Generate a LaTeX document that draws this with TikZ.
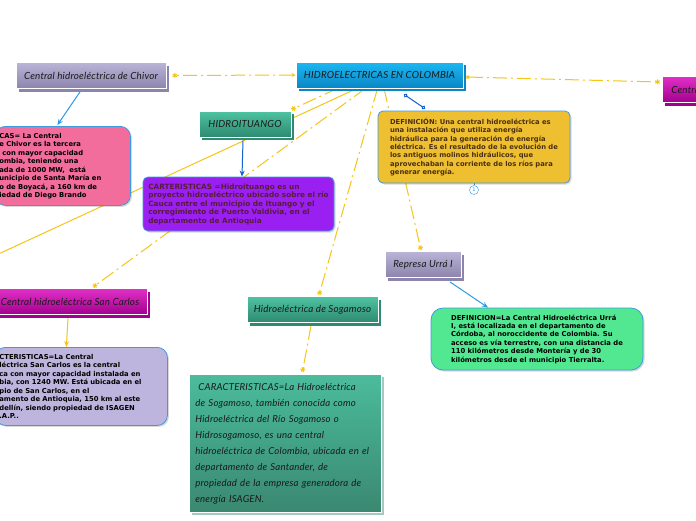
\documentclass[tikz,border=0pt]{standalone}
\usepackage{fontspec}
\newfontfamily\hand{Lato}[LetterSpace=2]
\newfontfamily\verd{DejaVu Sans}
\usetikzlibrary{arrows.meta, shadows, backgrounds}
\definecolor{titletext}{HTML}{1A1A1A}
\definecolor{centraltop}{HTML}{1CB8F2}
\definecolor{centralbot}{HTML}{0A86C6}
\definecolor{lilactop}{HTML}{BAB4D8}
\definecolor{lilacbot}{HTML}{8C84AC}
\definecolor{tealtop}{HTML}{4EC3A2}
\definecolor{tealbot}{HTML}{2E8A70}
\definecolor{magentatop}{HTML}{E230C8}
\definecolor{magentabot}{HTML}{A2008E}
\definecolor{sogtop}{HTML}{4BBC9C}
\definecolor{sogbot}{HTML}{3A8870}
\definecolor{pinkfill}{HTML}{F26D9C}
\definecolor{purplefill}{HTML}{9A20F2}
\definecolor{purpletext}{HTML}{5A1A3C}
\definecolor{goldfill}{HTML}{EFBF32}
\definecolor{goldtext}{HTML}{4A3010}
\definecolor{greenfill}{HTML}{52E892}
\definecolor{lilacfill}{HTML}{BDB5DD}
\definecolor{boxline}{HTML}{3D9BE0}
\definecolor{linkyellow}{HTML}{F5C518}
\definecolor{lightblue}{HTML}{2A9AE8}
\definecolor{darkblue}{HTML}{1262D0}

\begin{document}
\begin{tikzpicture}[x=1pt, y=-1pt,
    topic/.style={
        draw=white,
        line width=0.8pt,
        minimum height=26pt,
        inner sep=1pt,
        text=titletext,
        font=\hand\itshape\fontsize{9.8}{11}\selectfont
    },
    blueshade/.style={top color=centraltop, bottom color=centralbot,
        drop shadow={shadow xshift=3pt, shadow yshift=-3pt, fill=centralbot, opacity=1}},
    lilacshade/.style={top color=lilactop, bottom color=lilacbot,
        drop shadow={shadow xshift=3pt, shadow yshift=-3pt, fill=lilacbot, opacity=1}},
    tealshade/.style={top color=tealtop, bottom color=tealbot,
        drop shadow={shadow xshift=3pt, shadow yshift=-3pt, fill=tealbot, opacity=1}},
    magentashade/.style={top color=magentatop, bottom color=magentabot,
        drop shadow={shadow xshift=3pt, shadow yshift=-3pt, fill=magentabot, opacity=1}},
    detail/.style={
        draw=boxline,
        line width=0.8pt,
        rounded corners=10pt,
        align=left,
        text=black,
        font=\verd\bfseries\fontsize{6.8}{8.4}\selectfont,
        drop shadow={shadow xshift=1.5pt, shadow yshift=-1.5pt, fill=black, opacity=0.15}
    },
    link/.style={draw=linkyellow, line width=1pt,
        dash pattern=on 14pt off 4pt on 2pt off 4pt},
    solidlink/.style={draw=linkyellow, line width=1pt},
    ray/.style={-{Rays[n=6, length=5pt, width=5pt]}},
    bluearrow/.style={line width=1pt, -{Stealth[length=6pt, width=5pt]}}
]

\useasboundingbox (0,0) rectangle (696,520);
\clip (0,0) rectangle (696,520);

\node[topic, blueshade, minimum width=167pt] (colombia) at (379.5,75) {HIDROELECTRICAS EN COLOMBIA};
\node[topic, lilacshade, minimum width=150pt] (chivor) at (91,75.5) {Central hidroeléctrica de Chivor};
\node[topic, magentashade, anchor=west, text width=80pt, inner xsep=9pt, align=left] (otra) at (662,89.5) {Central};
\node[topic, tealshade, minimum width=92pt] (ituango) at (245,124) {HIDROITUANGO};
\node[topic, lilacshade, minimum width=76pt] (urra) at (423,264.5) {Represa Urrá I};
\node[topic, magentashade, minimum width=154pt] (sancarlos) at (70,301.5) {Central hidroeléctrica San Carlos};
\node[topic, tealshade, minimum width=131pt] (sogamoso) at (312.5,309.5) {Hidroeléctrica de Sogamoso};

\node[detail, fill=pinkfill, anchor=north west, text width=127pt, inner xsep=4pt, minimum height=79pt,
    font=\verd\bfseries\fontsize{6.8}{8.5}\selectfont] (chivordet) at (-5,126) {%
CAS= La Central\\
e Chivor es la tercera\\
\hspace*{3pt}con mayor capacidad\\
ombia, teniendo una\\
ada de 1000 MW,\ \ está\\
unicipio de Santa María en\\
o de Boyacá, a 160 km de\\
iedad de Diego Brando};

\node[detail, fill=purplefill, text=purpletext, minimum width=191pt, minimum height=54pt, rounded corners=5pt,
    font=\verd\bfseries\fontsize{7.3}{8.5}\selectfont] (ituangodet) at (238.5,204) {%
CARTERISTICAS =Hidroituango es un\\
proyecto hidroeléctrico ubicado sobre el río\\
Cauca entre el municipio de Ituango y el\\
corregimiento de Puerto Valdivia, en el\\
departamento de Antioquia};

\node[detail, fill=goldfill, text=goldtext, minimum width=192pt, minimum height=72pt, rounded corners=5pt] (definicion) at (474,147) {%
DEFINICIÓN: Una central hidroeléctrica es\\
una instalación que utiliza energía\\
hidráulica para la generación de energía\\
eléctrica. Es el resultado de la evolución de\\
los antiguos molinos hidráulicos, que\\
aprovechaban la corriente de los ríos para\\
generar energía.};

\node[circle, draw=lightblue, fill=white, inner sep=0pt, minimum size=9pt, text=lightblue,
    font=\verd\fontsize{5}{5}\selectfont] (nota) at (474,190) {1};

\node[detail, fill=greenfill, minimum width=212pt, minimum height=62pt, rounded corners=12pt] (urradet) at (537,339) {%
DEFINICION=La Central Hidroeléctrica Urrá\\
I, está localizada en el departamento de\\
Córdoba, al noroccidente de Colombia. Su\\
acceso es vía terrestre, con una distancia de\\
110 kilómetros desde Montería y de 30\\
kilómetros desde el municipio Tierralta.};

\node[detail, fill=lilacfill, anchor=north west, text width=164pt, inner xsep=4pt, minimum height=78pt,
    font=\verd\bfseries\fontsize{6.8}{8.5}\selectfont] (sancarlosdet) at (-5,347) {%
CTERISTICAS=La Central\\
léctrica San Carlos es la central\\
ca con mayor capacidad instalada en\\
bia, con 1240 MW. Está ubicada en el\\
pio de San Carlos, en el\\
amento de Antioquia, 150 km al este\\
dellín, siendo propiedad de ISAGEN\\
.A.P..};

\node[draw=white, line width=0.8pt, top color=sogtop, bottom color=sogbot,
    drop shadow={shadow xshift=3pt, shadow yshift=-3pt, fill=sogbot!45, opacity=1},
    anchor=north west, text width=180pt, inner xsep=6pt, minimum height=138pt, align=left,
    text=titletext, font=\hand\itshape\fontsize{9.6}{16}\selectfont] (sogamosodet) at (189,374) {%
\hspace*{3pt}CARACTERISTICAS=La Hidroeléctrica\\
de Sogamoso, también conocida como\\
Hidroeléctrica del Río Sogamoso o\\
Hidrosogamoso, es una central\\
hidroeléctrica de Colombia, ubicada en el\\
departamento de Santander, de\\
propiedad de la empresa generadora de\\
energía ISAGEN.};

\coordinate (offleft) at (-60,281);

\begin{pgfonlayer}{background}
\fill[white] (0,0) rectangle (696,520);
\draw[link, {Stealth[length=4pt, width=4pt]}-{Rays[n=6, length=5pt, width=5pt]}] (colombia.west) -- ([xshift=6pt]chivor.east);
\draw[link, {Square[length=3pt, width=3pt]}-{Rays[n=6, length=5pt, width=5pt]}] ([xshift=3pt, yshift=-2pt]colombia.east) -- ([xshift=-2pt, yshift=7.5pt]otra.west);
\draw[link, ray] ([xshift=-42pt]colombia.south) -- ([yshift=1pt]ituango.north east);
\draw[solidlink] ([xshift=-22.5pt]colombia.south) -- (offleft);
\draw[link, ray] ([xshift=-14pt]colombia.south) -- ([xshift=23pt, yshift=1pt]sancarlos.north);
\draw[link, ray] ([xshift=-2pt]colombia.south) -- ([xshift=6.5pt, yshift=1pt]sogamoso.north);
\draw[link, ray] ([xshift=4.5pt]colombia.south) -- ([xshift=-2pt, yshift=1pt]urra.north);
\draw[link, ray] ([xshift=-1.5pt, yshift=-3pt]sogamoso.south) -- ([xshift=17pt, yshift=2pt]sogamosodet.north);
\draw[solidlink, -{Stealth[length=6pt, width=5pt]}] ([xshift=-2pt, yshift=-3pt]sancarlos.south) -- ([xshift=-15pt]sancarlosdet.north);
\draw[darkblue, line width=1pt, {Circle[length=4pt, fill=white]}-{Circle[length=4pt, fill=white]}] ([xshift=24.5pt, yshift=-6pt]colombia.south) -- ([xshift=-49pt, yshift=2pt]definicion.north);
\draw[bluearrow, lightblue] ([xshift=-11pt, yshift=-3pt]chivor.south) -- ([xshift=-5.5pt, yshift=1pt]chivordet.north);
\draw[bluearrow, darkblue] ([xshift=-2pt, yshift=-3pt]ituango.south) -- ([xshift=3.5pt]ituangodet.north);
\draw[bluearrow, lightblue] ([xshift=27pt, yshift=-4pt]urra.south) -- ([xshift=-49pt]urradet.north);
\draw[lightblue, line width=1pt] (definicion.south) -- (nota);
\end{pgfonlayer}
\end{tikzpicture}
\end{document}
